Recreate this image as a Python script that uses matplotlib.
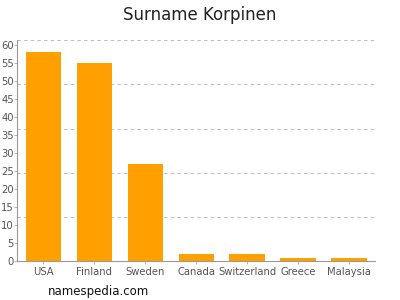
import matplotlib
matplotlib.use("Agg")
import matplotlib.pyplot as plt
import numpy as np

countries = ["USA", "Finland", "Sweden", "Canada", "Switzerland", "Greece", "Malaysia"]
counts = [58, 55, 27, 2, 2, 1, 1]
yticks = list(range(0, 65, 5))
ytop = 61.2

fig = plt.figure(figsize=(4, 3), dpi=100)
ax = fig.add_axes([0.043, 0.129, 0.8945, 0.737])

x = np.arange(len(countries))
ax.bar(x, counts, width=0.69, color="#ffa000", zorder=2)

ax.set_xlim(-0.51, len(countries) - 0.49)
ax.set_ylim(0, ytop)
ax.set_yticks(yticks)
ax.set_xticks(x)
ax.set_xticklabels(countries)

for g in np.linspace(0, ytop, 6)[1:]:
    ax.axhline(g, color="#c0c0c0", linestyle=(0, (3, 3)), linewidth=0.8, zorder=1)

for s in ["top", "right"]:
    ax.spines[s].set_visible(False)
for s in ["left", "bottom"]:
    ax.spines[s].set_color("#999999")
    ax.spines[s].set_linewidth(0.8)

ax.tick_params(axis="both", colors="#aaaaaa", labelcolor="#555555", labelsize=7.2, length=2, width=0.6)
ax.tick_params(axis="y", pad=0.5)
ax.tick_params(axis="x", pad=2)

fig.text(0.5, 0.95, "Surname Korpinen", ha="center", va="center", fontsize=12, color="#222222")
fig.text(0.12, 0.027, "namespedia.com", ha="left", va="center", fontsize=8.5, color="#111111")

fig.savefig("out.png", dpi=100)
